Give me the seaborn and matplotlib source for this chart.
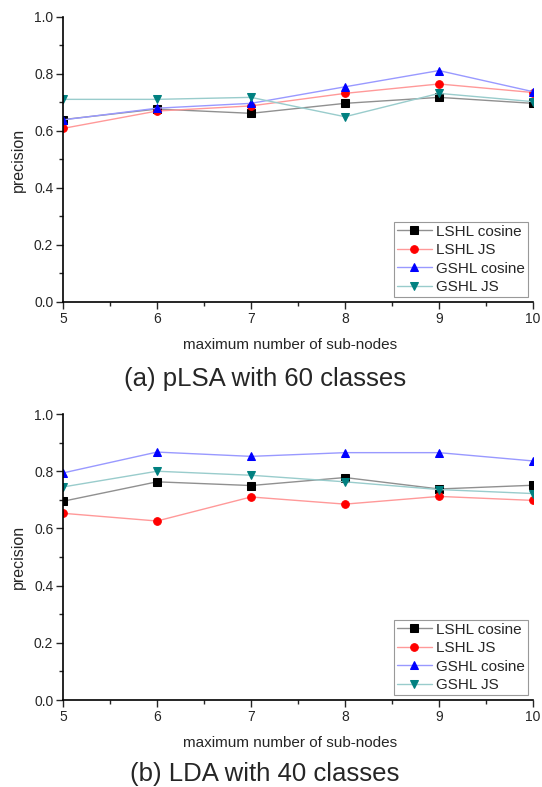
import numpy as np
import pandas as pd
import matplotlib
matplotlib.use("Agg")
import matplotlib.pyplot as plt
from matplotlib.ticker import MultipleLocator
import seaborn as sns

# x axis: maximum number of sub-nodes
subnodes = [5, 6, 7, 8, 9, 10]

# (a) pLSA with 60 classes
plsa_lshl_cos = [0.640, 0.677, 0.662, 0.697, 0.718, 0.697]
plsa_lshl_js = [0.609, 0.670, 0.688, 0.732, 0.765, 0.735]
plsa_gshl_cos = [0.639, 0.680, 0.697, 0.755, 0.812, 0.738]
plsa_gshl_js = [0.711, 0.711, 0.718, 0.650, 0.732, 0.703]

# (b) LDA with 40 classes
lda_lshl_cos = [0.695, 0.763, 0.750, 0.778, 0.738, 0.751]
lda_lshl_js = [0.653, 0.626, 0.710, 0.685, 0.712, 0.698]
lda_gshl_cos = [0.794, 0.867, 0.852, 0.865, 0.865, 0.836]
lda_gshl_js = [0.745, 0.800, 0.786, 0.763, 0.736, 0.722]

series_names = ["LSHL cosine", "LSHL JS", "GSHL cosine", "GSHL JS"]
captions = ["(a) pLSA with 60 classes", "(b) LDA with 40 classes"]

sns.set_theme(style="ticks")
plt.rcParams['font.family'] = ['Liberation Sans', 'DejaVu Sans']

marker_colors = ["black", "red", "blue", "#008080"]
line_colors = ["#909090", "#ff9999", "#9999ff", "#99cccc"]
marker_shapes = ["s", "o", "^", "v"]

fig = plt.figure(figsize=(5.42, 7.87), dpi=100)
ax_top = fig.add_axes([0.1162, 0.6163, 0.8672, 0.3621])
ax_bot = fig.add_axes([0.1162, 0.1105, 0.8672, 0.3634])

panels = [
    (ax_top, [plsa_lshl_cos, plsa_lshl_js, plsa_gshl_cos, plsa_gshl_js]),
    (ax_bot, [lda_lshl_cos, lda_lshl_js, lda_gshl_cos, lda_gshl_js]),
]

for ax, values in panels:
    for name, vals, mc, lc, mk in zip(series_names, values, marker_colors,
                                       line_colors, marker_shapes):
        df = pd.DataFrame({"x": subnodes, "y": vals})
        sns.lineplot(data=df, x="x", y="y", ax=ax, color=lc, linewidth=1,
                     marker=mk, markersize=5.5, markerfacecolor=mc,
                     markeredgecolor=mc, label=name)
    ax.set_xlim(5, 10)
    ax.set_ylim(0, 1.0)
    ax.xaxis.set_major_locator(MultipleLocator(1))
    ax.xaxis.set_minor_locator(MultipleLocator(0.5))
    ax.yaxis.set_major_locator(MultipleLocator(0.2))
    ax.yaxis.set_minor_locator(MultipleLocator(0.1))
    ax.set_yticklabels([f"{v:.1f}" for v in ax.get_yticks()])
    ax.tick_params(which="major", length=5, width=1, labelsize=10, pad=2)
    ax.tick_params(which="minor", length=3, width=1)
    for s in ["top", "right"]:
        ax.spines[s].set_visible(False)
    for s in ["left", "bottom"]:
        ax.spines[s].set_linewidth(1.2)
        ax.spines[s].set_color("black")
    ax.set_xlabel("maximum number of sub-nodes", fontsize=11)
    ax.set_ylabel("precision", fontsize=11.5)
    ax.xaxis.set_label_coords(0.483, -0.125)
    ax.yaxis.set_label_coords(-0.078, 0.5)
    leg = ax.legend(loc="lower right", fontsize=11, fancybox=False,
                    edgecolor="#999999", framealpha=1, borderaxespad=0.3,
                    handlelength=2.3, handletextpad=0.3, labelspacing=0.3,
                    borderpad=0.2)
    leg.get_frame().set_linewidth(0.8)

fig.text(0.489, 1 - 379 / 787, captions[0], ha="center", va="center", fontsize=18.5)
fig.text(0.489, 1 - 774 / 787, captions[1], ha="center", va="center", fontsize=18.5)

plt.savefig("out.png", dpi=100)
